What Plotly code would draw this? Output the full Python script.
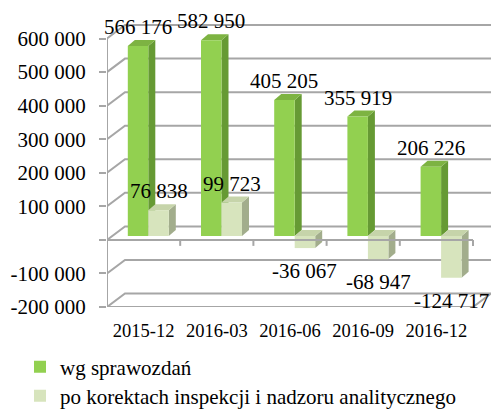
import plotly.graph_objects as go

# ---------------- data ----------------
categories = ["2015-12", "2016-03", "2016-06", "2016-09", "2016-12"]
wg_sprawozdan = [566176, 582950, 405205, 355919, 206226]
po_korektach = [76838, 99723, -36067, -68947, -124717]
series_names = ["wg sprawozdań", "po korektach inspekcji i nadzoru analitycznego"]
ytick_vals = [-200000, -100000, 0, 100000, 200000, 300000, 400000, 500000, 600000]
ytick_text = ["-200 000", "-100 000", "", "100 000", "200 000", "300 000",
              "400 000", "500 000", "600 000"]

# ---------------- style / geometry ----------------
W, H = 493, 409
ML, MR, MT, MB = 107, 2, 10, 102
PX_PER_CAT = 73.2
PX_PER_100K = 33.56
U_PER_PX = 100000 / PX_PER_100K
plot_h = H - MT - MB
y_lo = min(ytick_vals)
y_hi = y_lo + plot_h * U_PER_PX

# back-wall depth offset
BDX = 18 / PX_PER_CAT
BDY = 13.5 * U_PER_PX
# bar front face depth offset
SX = 4.7 / PX_PER_CAT
SY = 3.9 * U_PER_PX
# bar body depth
DX = 7 / PX_PER_CAT
DY = 6 * U_PER_PX
BW = 0.28

x_lo = -0.5
x_front_hi = len(categories) - 0.5
x_hi = x_front_hi + BDX

GRID = "#A6A6A6"
FONT = "Liberation Serif"
colors = {
    0: dict(front="#92D050", side="#669A34", top="#7DB342"),
    1: dict(front="#D7E4BD", side="#A2AD8C", top="#C6D4AA"),
}
offsets = [-BW + SX, SX]

xs = list(range(len(categories)))
fig = go.Figure()

shapes = []
# back wall gridlines (slanted from the front axis, then along the back wall)
for v in ytick_vals:
    shapes.append(dict(type="path", xref="x", yref="y", layer="below",
                       path=f"M{x_lo},{v} L{x_lo + BDX},{v + BDY} L{x_hi},{v + BDY}",
                       line=dict(color=GRID, width=2)))
# floor front edge and right edge
shapes.append(dict(type="path", xref="x", yref="y", layer="below",
                   path=f"M{x_lo},{y_lo} L{x_front_hi},{y_lo} L{x_hi},{y_lo + BDY}",
                   line=dict(color=GRID, width=2)))

# side and top faces of the bars
for si, vals in enumerate([wg_sprawozdan, po_korektach]):
    c = colors[si]
    for xi, v in zip(xs, vals):
        x0 = xi + offsets[si]
        x1 = x0 + BW
        shapes.append(dict(type="path", xref="x", yref="y2", layer="below",
                           path=f"M{x1},0 L{x1 + DX},{DY} L{x1 + DX},{v + DY} L{x1},{v} Z",
                           fillcolor=c["side"], line=dict(width=0)))
        t = max(v, 0)
        shapes.append(dict(type="path", xref="x", yref="y2", layer="below",
                           path=f"M{x0},{t} L{x0 + DX},{t + DY} L{x1 + DX},{t + DY} L{x1},{t} Z",
                           fillcolor=c["top"], line=dict(width=0)))

# front vertical axis line
shapes.append(dict(type="line", xref="x", yref="y", layer="above",
                   x0=x_lo, x1=x_lo, y0=min(ytick_vals), y1=max(ytick_vals),
                   line=dict(color=GRID, width=2)))
# front horizontal axis at zero with tick marks
shapes.append(dict(type="line", xref="x", yref="y", layer="above",
                   x0=x_lo, x1=x_front_hi, y0=0, y1=0,
                   line=dict(color=GRID, width=2)))
for b in [xi + 0.5 for xi in xs]:
    shapes.append(dict(type="line", xref="x", yref="y", layer="above",
                       x0=b, x1=b, y0=0, y1=-6 * U_PER_PX,
                       line=dict(color=GRID, width=2)))


def fmt(v):
    return f"{v:,}".replace(",", " ")


annotations = []
legends = ["legend", "legend2"]
for si, vals in enumerate([wg_sprawozdan, po_korektach]):
    fig.add_trace(go.Bar(
        x=xs, y=vals, name=series_names[si], yaxis="y2",
        offset=offsets[si], width=BW, legend=legends[si],
        marker=dict(color=colors[si]["front"], line=dict(width=0)),
    ))
    for xi, v in zip(xs, vals):
        annotations.append(dict(
            x=xi + offsets[si] + BW / 2, y=v, xref="x", yref="y2",
            text=fmt(v), showarrow=False, xanchor="center", yanchor="middle",
            yshift=19 if v >= 0 else -23,
            font=dict(family=FONT, size=21, color="#000000"),
        ))

legend_style = dict(orientation="v", xref="container", yref="container",
                    xanchor="left", yanchor="middle",
                    font=dict(family=FONT, size=21, color="#000000"),
                    bgcolor="rgba(0,0,0,0)", itemwidth=30)

fig.update_layout(
    width=W, height=H,
    margin=dict(l=ML, r=MR, t=MT, b=MB, autoexpand=False),
    paper_bgcolor="white", plot_bgcolor="white",
    barmode="overlay",
    shapes=shapes,
    annotations=annotations,
    font=dict(family=FONT, color="#000000"),
    xaxis=dict(range=[x_lo, x_hi], tickvals=xs, ticktext=categories,
               showgrid=False, zeroline=False, showline=False, ticks="",
               tickfont=dict(family=FONT, size=18.5), ticklabelstandoff=10,
               automargin=False),
    yaxis=dict(range=[y_lo, y_hi], tickvals=ytick_vals, ticktext=ytick_text,
               showgrid=False, zeroline=False, showline=False,
               ticks="outside", ticklen=7, tickwidth=2, tickcolor=GRID,
               tickfont=dict(family=FONT, size=21), ticklabelstandoff=9,
               automargin=False),
    yaxis2=dict(overlaying="y", range=[y_lo - SY, y_hi - SY], visible=False),
    legend=dict(legend_style, x=20 / W, y=1 - 367 / H),
    legend2=dict(legend_style, x=20 / W, y=1 - 396 / H),
    showlegend=True,
)

fig.write_html("out.html", config={"displayModeBar": False},
               post_script="document.body.style.margin='0px';")
